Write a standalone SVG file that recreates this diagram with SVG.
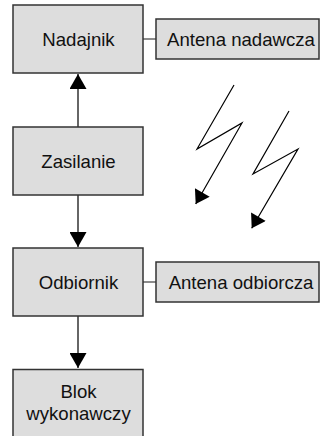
<svg xmlns="http://www.w3.org/2000/svg" width="320" height="436" viewBox="0 0 320 436">
  <style>
    .box { fill: #dddddd; stroke: #333333; stroke-width: 1.5; }
    .label { font-family: "Liberation Sans", Arial, sans-serif; font-size: 18.6px; fill: #111111; text-anchor: middle; }
    .wire { stroke: #666666; stroke-width: 2; fill: none; }
    .bolt { stroke: #000000; stroke-width: 1.2; fill: none; stroke-linejoin: miter; }
  </style>
  <defs>
    <marker id="head" markerUnits="userSpaceOnUse" markerWidth="17" markerHeight="17" viewBox="0 -8.5 15 17" refX="15" refY="0" orient="auto">
      <path d="M0,-8.5 L15,0 L0,8.5 Z" fill="#000000"/>
    </marker>
    <marker id="bolthead" markerUnits="userSpaceOnUse" markerWidth="17" markerHeight="17" viewBox="0 -8.3 13 16.6" refX="13" refY="0" orient="auto">
      <path d="M0,-8.3 L13,0 L0,8.3 Z" fill="#000000"/>
    </marker>
  </defs>

  <g id="connectors">
    <line class="wire" x1="78" y1="127" x2="78" y2="74" marker-end="url(#head)"/>
    <line class="wire" x1="78" y1="195" x2="78" y2="247" marker-end="url(#head)"/>
    <line class="wire" x1="78" y1="316" x2="78" y2="368" marker-end="url(#head)"/>
    <line class="wire" x1="143" y1="39" x2="156" y2="39" style="stroke-width:1.5"/>
    <line class="wire" x1="143" y1="282" x2="156" y2="282" style="stroke-width:1.5"/>
  </g>

  <g id="nadajnik">
    <rect class="box" x="13" y="5" width="130" height="68"/>
    <text class="label" x="78.5" y="45.5">Nadajnik</text>
  </g>
  <g id="antena-nadawcza">
    <rect class="box" x="156" y="19" width="163" height="40"/>
    <text class="label" x="241" y="45.5">Antena nadawcza</text>
  </g>
  <g id="zasilanie">
    <rect class="box" x="13" y="127" width="130" height="68"/>
    <text class="label" x="78.5" y="167.5">Zasilanie</text>
  </g>
  <g id="odbiornik">
    <rect class="box" x="13" y="248" width="130" height="68"/>
    <text class="label" x="78.5" y="288.5">Odbiornik</text>
  </g>
  <g id="antena-odbiorcza">
    <rect class="box" x="156" y="262" width="163" height="40"/>
    <text class="label" x="241" y="288.5">Antena odbiorcza</text>
  </g>
  <g id="blok-wykonawczy">
    <rect class="box" x="13" y="369.5" width="130" height="80"/>
    <text class="label" x="78.5" y="398">Blok</text>
    <text class="label" x="78.5" y="420">wykonawczy</text>
  </g>

  <g id="radio-link">
    <polyline class="bolt" points="234,85 197,149 242,123 195.7,204" marker-end="url(#bolthead)"/>
    <polyline class="bolt" points="289,111 253,174 298,149 251.7,228.3" marker-end="url(#bolthead)"/>
  </g>
</svg>
